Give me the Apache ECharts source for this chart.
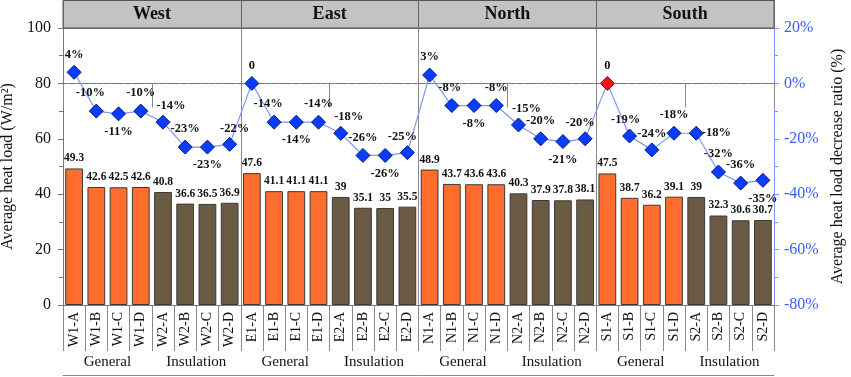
<!DOCTYPE html>
<html>
<head>
<meta charset="utf-8">
<script src="https://cdn.jsdelivr.net/npm/echarts@6/dist/echarts.min.js"></script>
<style>
html,body{margin:0;padding:0;background:#fff;}
#chart{width:851px;height:377px;}
</style>
</head>
<body>
<div id="chart"></div>
<script>
// ---- data ----
const regions = ['West', 'East', 'North', 'South'];
const groups = ['General', 'Insulation', 'General', 'Insulation', 'General', 'Insulation', 'General', 'Insulation'];
const categories = [
  'W1-A','W1-B','W1-C','W1-D','W2-A','W2-B','W2-C','W2-D',
  'E1-A','E1-B','E1-C','E1-D','E2-A','E2-B','E2-C','E2-D',
  'N1-A','N1-B','N1-C','N1-D','N2-A','N2-B','N2-C','N2-D',
  'S1-A','S1-B','S1-C','S1-D','S2-A','S2-B','S2-C','S2-D'
];
const heatLoad = [
  49.3, 42.6, 42.5, 42.6, 40.8, 36.6, 36.5, 36.9,
  47.6, 41.1, 41.1, 41.1, 39, 35.1, 35, 35.5,
  48.9, 43.7, 43.6, 43.6, 40.3, 37.9, 37.8, 38.1,
  47.5, 38.7, 36.2, 39.1, 39, 32.3, 30.6, 30.7
];
const decreaseRatio = [
  4, -10, -11, -10, -14, -23, -23, -22,
  0, -14, -14, -14, -18, -26, -26, -25,
  3, -8, -8, -8, -15, -20, -21, -20,
  0, -19, -24, -18, -18, -32, -36, -35
];
const leftTicks = [0, 20, 40, 60, 80, 100];
const rightTicks = [-80, -60, -40, -20, 0, 20];
const referenceRatio = 0;   // dashed reference line (0 %)

// ---- styling (label placement per point) ----
const labelPlace = [
  ['top',[0,0]],['top',[-6,0]],['bottom',[0,0]],['top',[0,0]],['top',[8,2]],['top',[0,0]],['bottom',[0,0]],['top',[5,2]],
  ['top',[0,0]],['top',[-6,0]],['bottom',[0,0]],['top',[0,0]],['top',[8,2]],['top',[0,0]],['bottom',[0,0]],['top',[-5,2]],
  ['top',[0,0]],['top',[-2,0]],['bottom',[0,0]],['top',[0,0]],['top',[8,2]],['top',[0,0]],['bottom',[0,0]],['top',[-5,2]],
  ['top',[0,0]],['top',[-4,2]],['top',[0,2]],['top',[0,0]],['right',[-6,0]],['top',[0,0]],['top',[0,0]],['bottom',[0,0]]
];

const W = 851, H = 377;
const GL = 63, GR = 77, GT = 28, GB = 72;
const FONT = 'Liberation Serif';
const ORANGE = '#ff6d2c', BROWN = '#6b5b45';

const chart = echarts.init(document.getElementById('chart'), null, {renderer: 'canvas'});

const barData = heatLoad.map((v, i) => ({
  value: v,
  itemStyle: {color: (Math.floor(i / 4) % 2 === 0) ? ORANGE : BROWN}
}));
const lineData = decreaseRatio.map((v, i) => {
  const d = {value: v, label: {position: labelPlace[i][0], offset: labelPlace[i][1]}};
  if (i === 24) d.itemStyle = {color: '#ff1010', borderColor: '#7a0000'};
  return d;
});

const option = {
  animation: false,
  textStyle: {fontFamily: FONT},
  graphic: {
    elements: [{
      type: 'rect', z: -100,
      shape: {x: GL, y: 0.5, width: W - GL - GR, height: GT - 0.5},
      style: {fill: '#c3c3c3', stroke: '#555', lineWidth: 1}
    }]
  },
  grid: {left: GL, right: GR, top: GT, bottom: GB, containLabel: false, outerBoundsMode: 'none'},
  xAxis: [
    {
      type: 'category', data: categories, position: 'bottom',
      axisLine: {show: true, lineStyle: {color: '#777', width: 1}},
      axisTick: {show: true, interval: 0, length: 46, lineStyle: {color: '#888'}},
      axisLabel: {interval: 0, rotate: 90, fontSize: 14, color: '#111', margin: 7, fontFamily: FONT},
      splitLine: {show: false}
    },
    {
      type: 'category', data: groups, position: 'bottom', offset: 46,
      axisLine: {show: true, lineStyle: {color: '#888', width: 1}},
      axisTick: {show: true, interval: 0, length: 24, lineStyle: {color: '#888'}},
      axisLabel: {interval: 0, fontSize: 15, color: '#111', margin: 4, fontFamily: FONT},
      splitLine: {show: false}
    },
    {
      type: 'category', data: regions, position: 'bottom', offset: 70,
      axisLine: {show: true, lineStyle: {color: '#888', width: 1}},
      axisTick: {show: false}, axisLabel: {show: false}, splitLine: {show: false}
    },
    {
      type: 'category', data: regions, position: 'top',
      axisLine: {show: true, lineStyle: {color: '#666', width: 1}},
      axisTick: {show: true, interval: 0, length: 28, lineStyle: {color: '#666'}},
      axisLabel: {interval: 0, fontSize: 18, fontWeight: 'bold', color: '#111', margin: 5, fontFamily: FONT},
      splitLine: {show: true, interval: 0, lineStyle: {color: '#888', width: 1}}
    }
  ],
  yAxis: [
    {
      type: 'value', min: leftTicks[0], max: leftTicks[leftTicks.length - 1], interval: 20,
      position: 'left',
      name: 'Average heat load (W/m²)', nameLocation: 'middle', nameGap: 44, nameRotate: 90,
      nameTextStyle: {fontSize: 16, color: '#111', fontFamily: FONT},
      axisLine: {show: true, lineStyle: {color: '#777'}},
      axisTick: {show: true, length: 5, lineStyle: {color: '#777'}},
      minorTick: {show: true, splitNumber: 2, length: 4, lineStyle: {color: '#777'}},
      axisLabel: {fontSize: 16, color: '#111', margin: 12, fontFamily: FONT},
      splitLine: {show: false}
    },
    {
      type: 'value', min: rightTicks[0], max: rightTicks[rightTicks.length - 1], interval: 20,
      position: 'right',
      name: 'Average heat load decrease ratio (%)', nameLocation: 'middle', nameGap: 52, nameRotate: 90,
      nameTextStyle: {fontSize: 16, color: '#111', fontFamily: FONT},
      axisLine: {show: true, lineStyle: {color: '#7f95ff'}},
      axisTick: {show: true, length: 5, lineStyle: {color: '#7f95ff'}},
      minorTick: {show: true, splitNumber: 2, length: 4, lineStyle: {color: '#7f95ff'}},
      axisLabel: {fontSize: 16, color: '#3b5bff', margin: 10, formatter: '{value}%', fontFamily: FONT},
      splitLine: {show: false}
    }
  ],
  series: [
    {
      type: 'bar', xAxisIndex: 0, yAxisIndex: 0, data: barData,
      barCategoryGap: '20%',
      itemStyle: {borderColor: '#3a3a3a', borderWidth: 1},
      label: {show: true, position: 'top', distance: 4, fontSize: 11.5, fontWeight: 'bold', color: '#111', fontFamily: FONT},
      z: 2
    },
    {
      type: 'line', xAxisIndex: 0, yAxisIndex: 1, data: lineData,
      symbol: 'diamond', symbolSize: 14,
      itemStyle: {color: '#0a3cff', borderColor: '#001a80', borderWidth: 1},
      lineStyle: {color: '#7d96ff', width: 1.2},
      label: {
        show: true, fontSize: 12.5, fontWeight: 'bold', color: '#111', distance: 4, fontFamily: FONT,
        formatter: p => (p.value === 0 ? '0' : p.value + '%')
      },
      markLine: {
        silent: true, symbol: ['none', 'none'], precision: 0,
        label: {show: false},
        lineStyle: {color: '#ff3b3b', type: [4, 3], width: 1},
        data: [{yAxis: referenceRatio}]
      },
      z: 5
    }
  ]
};
chart.setOption(option);
</script>
</body>
</html>
